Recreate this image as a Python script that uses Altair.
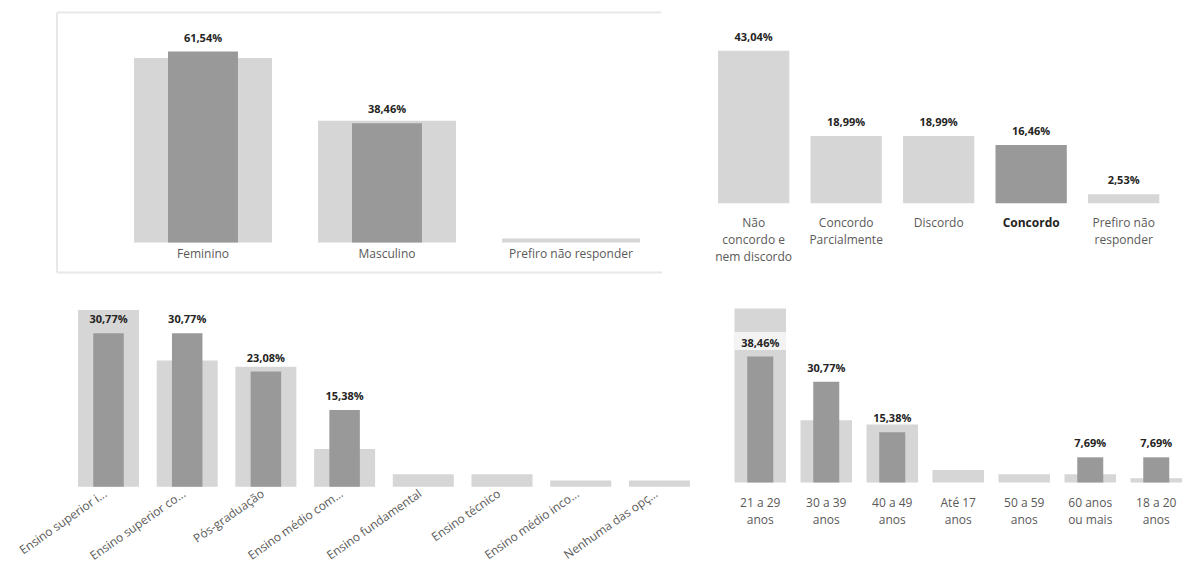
import altair as alt
import pandas as pd

FONTE = "Open Sans"
CINZA_CLARO = "#d6d6d6"
CINZA_ESCURO = "#999999"
TEXTO = "#252423"
EIXO = "#5a5958"
MOLDURA = "#e8e8e8"

# Gênero: todos os respondentes x respondentes que "Concordo"
genero = ["Feminino", "Masculino", "Prefiro não responder"]
genero_todos = [59.49, 39.24, 1.27]
genero_concordo = [61.54, 38.46, 0.0]

# Opinião
opiniao = ["Não\nconcordo e\nnem discordo", "Concordo\nParcialmente", "Discordo",
           "Concordo", "Prefiro não\nresponder"]
opiniao_pct = [43.04, 18.99, 18.99, 16.46, 2.53]
opiniao_destaque = "Concordo"

# Escolaridade
escolaridade = ["Ensino superior i...", "Ensino superior co...", "Pós-graduação",
                "Ensino médio com...", "Ensino fundamental", "Ensino técnico",
                "Ensino médio inco...", "Nenhuma das opç..."]
escolaridade_todos = [35.44, 25.32, 24.05, 7.59, 2.53, 2.53, 1.27, 1.27]
escolaridade_concordo = [30.77, 30.77, 23.08, 15.38, 0.0, 0.0, 0.0, 0.0]

# Faixa etária
idade = ["21 a 29\nanos", "30 a 39\nanos", "40 a 49\nanos", "Até 17\nanos",
         "50 a 59\nanos", "60 anos\nou mais", "18 a 20\nanos"]
idade_todos = [53.16, 18.99, 17.72, 3.80, 2.53, 2.53, 1.27]
idade_concordo = [38.46, 30.77, 15.38, 0.0, 0.0, 7.69, 7.69]


def rotulo(v):
    return f"{v:.2f}".replace(".", ",") + "%"


def banda(n, largura, inicio, passo, barra):
    """Band scale whose first bar starts `inicio` px from the left edge of the view."""
    p_in = 1 - barra / passo
    sobra = largura - passo * (n - p_in)
    return alt.Scale(paddingInner=p_in, paddingOuter=sobra / (2 * passo),
                     align=min(1.0, inicio / sobra))


def eixo(**extra):
    opts = dict(title=None, domain=False, ticks=False, tickSize=0, grid=False,
                labelFont=FONTE, labelFontSize=12, labelColor=EIXO, labelAngle=0,
                labelOverlap=False, labelLineHeight=17)
    opts.update(extra)
    return alt.Axis(**opts)


def texto_valor(base, x, ys, campo):
    return (base.transform_filter(f"datum.{campo} > 0")
            .mark_text(font=FONTE, fontSize=11, fontWeight="bold", color=TEXTO,
                       baseline="middle", dy=-13)
            .encode(x=x, y=alt.Y(f"{campo}:Q", scale=ys, axis=None), text="rotulo:N"))


def painel_duplo(cats, todos, concordo, largura, altura, ymax, inicio, passo, barra,
                 frac, ax, caixa=False, moldura=None):
    df = pd.DataFrame({"cat": cats, "todos": todos, "concordo": concordo})
    df["rotulo"] = [rotulo(v) for v in concordo]
    x = alt.X("cat:N", sort=cats, scale=banda(len(cats), largura, inicio, passo, barra), axis=ax)
    ys = alt.Scale(domain=[0, ymax], nice=False, zero=True)
    base = alt.Chart(df)
    camadas = []
    if moldura is not None:
        camadas += moldura
    camadas.append(base.mark_bar(color=CINZA_CLARO)
                   .encode(x=x, y=alt.Y("todos:Q", scale=ys, axis=None)))
    if caixa:
        # translucent backing behind a value label that sits inside the wide bar
        camadas.append(base.transform_filter("datum.todos > datum.concordo + 7.5")
                       .mark_rect(color="white", opacity=0.7, yOffset=-6.5, y2Offset=-24.5)
                       .encode(x=x, y=alt.Y("concordo:Q", scale=ys, axis=None),
                               y2=alt.Y2("concordo:Q")))
    camadas.append(base.transform_filter("datum.concordo > 0")
                   .mark_bar(color=CINZA_ESCURO, width=alt.RelativeBandSize(frac))
                   .encode(x=x, y=alt.Y("concordo:Q", scale=ys, axis=None)))
    camadas.append(texto_valor(base, x, ys, "concordo"))
    return alt.layer(*camadas).properties(width=largura, height=altura)


# thin light-grey frame around the gender panel (top, left and bottom edges)
ponto = pd.DataFrame({"m": [0]})
moldura_genero = [
    alt.Chart(ponto).mark_rule(color=MOLDURA, strokeWidth=2)
    .encode(x=alt.value(0), x2=alt.value(604), y=alt.value(0)),
    alt.Chart(ponto).mark_rule(color=MOLDURA, strokeWidth=2)
    .encode(x=alt.value(0), x2=alt.value(605), y=alt.value(260)),
    alt.Chart(ponto).mark_rule(color=MOLDURA, strokeWidth=2)
    .encode(x=alt.value(0), y=alt.value(0), y2=alt.value(260)),
]

painel_genero = painel_duplo(
    genero, genero_todos, genero_concordo, 633, 230, 74.12,
    77, 184, 138, 0.507, eixo(labelPadding=6), moldura=moldura_genero)

# Opinião: single series, highlighted category in dark grey
df_op = pd.DataFrame({"cat": opiniao, "pct": opiniao_pct})
df_op["rotulo"] = [rotulo(v) for v in opiniao_pct]
destaque = f"datum.value == '{opiniao_destaque}'"
x_op = alt.X(
    "cat:N", sort=opiniao, scale=banda(len(opiniao), 475, 18, 92.5, 71.3),
    axis=eixo(labelPadding=14, labelExpr="split(datum.label, '\\n')",
              labelFontWeight=alt.condition(destaque, alt.value("bold"), alt.value("normal")),
              labelColor=alt.condition(destaque, alt.value(TEXTO), alt.value(EIXO))))
ys_op = alt.Scale(domain=[0, 53.82], nice=False, zero=True)
base_op = alt.Chart(df_op)
painel_opiniao = alt.layer(
    base_op.mark_bar().encode(
        x=x_op, y=alt.Y("pct:Q", scale=ys_op, axis=None),
        color=alt.condition(f"datum.cat == '{opiniao_destaque}'",
                            alt.value(CINZA_ESCURO), alt.value(CINZA_CLARO))),
    texto_valor(base_op, x_op, ys_op, "pct"),
).properties(width=475, height=190.8)

painel_escolaridade = painel_duplo(
    escolaridade, escolaridade_todos, escolaridade_concordo, 633, 186.8, 37.43,
    21, 78.7, 61, 0.5,
    eixo(labelAngle=-35, labelAlign="right", labelBaseline="middle",
         labelPadding=5, labelOffset=-3, labelFontSize=12))

painel_idade = painel_duplo(
    idade, idade_todos, idade_concordo, 482, 182.5, 55.73,
    34.5, 66, 51.5, 0.505,
    eixo(labelPadding=15, labelExpr="split(datum.label, '\\n')"), caixa=True)

grafico = alt.concat(
    painel_genero, painel_opiniao, painel_escolaridade, painel_idade,
    columns=2, align="none", bounds="flush", spacing={"row": 57.5, "column": 10},
).properties(
    padding={"left": 16, "top": 11.5, "right": 0, "bottom": 0},
    background="white",
).configure_view(stroke=None)

grafico.save("out.html", embed_options={"renderer": "svg", "actions": False})
